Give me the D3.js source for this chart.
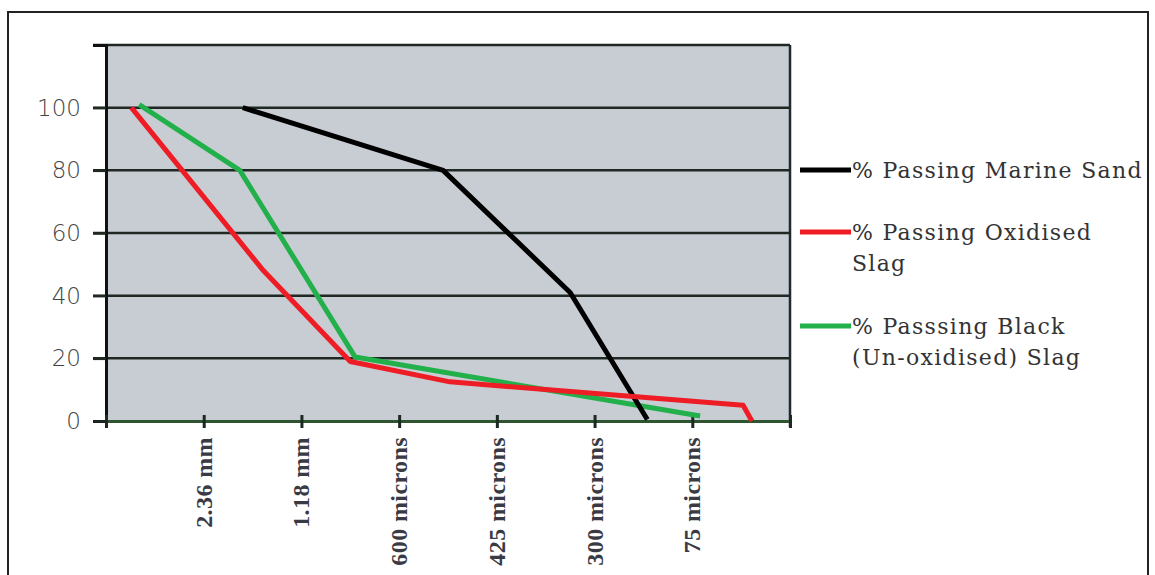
<!DOCTYPE html>
<html>
<head>
<meta charset="utf-8">
<script src="https://cdn.jsdelivr.net/npm/d3@7"></script>
<style>
  html, body { margin: 0; padding: 0; background: #fff; overflow: hidden; }
  svg { display: block; }
</style>
</head>
<body>
<div id="chart"></div>
<script>
// chart data
const sieveLabels = ["2.36 mm", "1.18 mm", "600 microns", "425 microns", "300 microns", "75 microns"];
const yTicks = [0, 20, 40, 60, 80, 100, 120];

const marineX = [1.40, 3.45, 4.75, 5.54];
const marineY = [100, 80, 41, 0.5];
const oxidisedX = [0.26, 1.61, 2.50, 3.52, 6.52, 6.61];
const oxidisedY = [100, 48, 19, 12.5, 5, 0];
const blackX = [0.34, 1.37, 2.55, 6.08];
const blackY = [101, 80, 20.4, 1.6];

const seriesNames = [["% Passing Marine Sand"], ["% Passing Oxidised", "Slag"], ["% Passsing Black", "(Un-oxidised) Slag"]];
const seriesColors = ["#000000", "#ee1c24", "#22b04b"];

const width = 1155;
const height = 575;
const margin = {top: 45, right: 365, bottom: 154, left: 106};
const innerWidth = width - margin.left - margin.right;
const innerHeight = height - margin.top - margin.bottom;

const svg = d3.select("#chart")
  .append("svg")
  .attr("width", width)
  .attr("height", height);

// outer frame (bottom edge is outside the picture)
svg.append("path")
  .attr("d", "M8,575 V12 H1148 V575")
  .attr("fill", "none")
  .attr("stroke", "#222")
  .attr("stroke-width", 2);

const chart = svg.append("g")
  .attr("transform", `translate(${margin.left}, ${margin.top})`);

const x = d3.scaleLinear().domain([0, 7]).range([0, innerWidth]);
const y = d3.scaleLinear().domain([0, 120]).range([innerHeight, 0]);

chart.append("rect")
  .attr("width", innerWidth)
  .attr("height", innerHeight)
  .attr("fill", "#c8ccd3");

// gridlines
chart.append("g")
  .selectAll("line")
  .data(yTicks.filter(d => d > 0))
  .enter()
  .append("line")
  .attr("x1", -13)
  .attr("x2", innerWidth)
  .attr("y1", d => y(d))
  .attr("y2", d => y(d))
  .attr("stroke", "#1f2822")
  .attr("stroke-width", 2.5);

// right edge of plot
chart.append("line")
  .attr("x1", innerWidth).attr("x2", innerWidth)
  .attr("y1", 0).attr("y2", innerHeight + 6)
  .attr("stroke", "#1e2a30")
  .attr("stroke-width", 2.5);

// y axis
const yAxis = chart.append("g")
  .call(d3.axisLeft(y).tickValues(yTicks.filter(d => d < 120)).tickSize(13).tickPadding(12));
yAxis.select(".domain").attr("stroke", "#111").attr("stroke-width", 3);
yAxis.selectAll(".tick line").attr("stroke", "#1f2822").attr("stroke-width", 2.5);
yAxis.selectAll("text")
  .attr("font-family", "DejaVu Sans")
  .attr("font-size", 23)
  .attr("font-weight", 300)
  .attr("fill", "#444");

// x axis (tick marks only, labels drawn rotated below)
const xAxis = chart.append("g")
  .attr("transform", `translate(0, ${innerHeight})`)
  .call(d3.axisBottom(x).tickValues(d3.range(0, 8)).tickSize(6));
xAxis.selectAll(".tick text").remove();
xAxis.select(".domain").attr("stroke", "#2e5530").attr("stroke-width", 3);
xAxis.selectAll(".tick line")
  .attr("y1", -6)
  .attr("y2", 7)
  .attr("stroke", "#1c2a22")
  .attr("stroke-width", 3);

chart.append("g")
  .selectAll("text")
  .data(sieveLabels)
  .enter()
  .append("text")
  .attr("transform", (d, i) => `translate(${x(i + 1) + 8}, ${innerHeight + 16}) rotate(-90)`)
  .attr("text-anchor", "end")
  .attr("font-family", "Liberation Serif")
  .attr("font-weight", "bold")
  .attr("font-size", 24)
  .attr("letter-spacing", 0.4)
  .attr("fill", "#3a3a44")
  .text(d => d);

// series lines
const series = [
  marineX.map((v, i) => [v, marineY[i]]),
  oxidisedX.map((v, i) => [v, oxidisedY[i]]),
  blackX.map((v, i) => [v, blackY[i]])
];
const line = d3.line().x(d => x(d[0])).y(d => y(d[1]));

chart.selectAll(".series")
  .data([series[2], series[0], series[1]].map((s, k) => ({pts: s, c: seriesColors[[2, 0, 1][k]]})))
  .enter()
  .append("path")
  .attr("d", d => line(d.pts))
  .attr("fill", "none")
  .attr("stroke", d => d.c)
  .attr("stroke-width", 5)
  .attr("stroke-linejoin", "round");

// legend
const legendY = [170, 232, 326];
const legend = svg.append("g");
seriesNames.forEach((lines, i) => {
  legend.append("line")
    .attr("x1", 800).attr("x2", 851)
    .attr("y1", legendY[i]).attr("y2", legendY[i])
    .attr("stroke", seriesColors[i])
    .attr("stroke-width", 5);
  lines.forEach((t, j) => {
    legend.append("text")
      .attr("x", 852)
      .attr("y", legendY[i] + 8 + j * 31)
      .attr("font-family", "DejaVu Serif")
      .attr("font-size", 22)
      .attr("letter-spacing", 1.3)
      .attr("fill", "#333")
      .text(t);
  });
});
</script>
</body>
</html>
